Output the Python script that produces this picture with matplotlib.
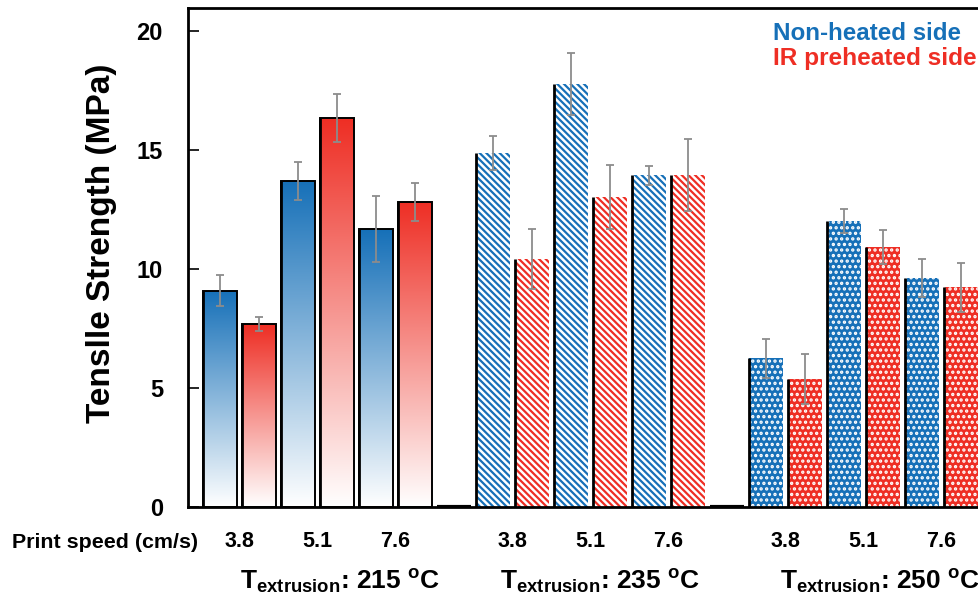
import numpy as np
import matplotlib.pyplot as plt
from matplotlib.colors import LinearSegmentedColormap

plt.rcParams.update(
    {
        "font.family": "Liberation Sans",
        "font.weight": "bold",
        "mathtext.fontset": "custom",
        "mathtext.rm": "Liberation Sans:bold",
        "mathtext.it": "Liberation Sans:bold",
        "mathtext.bf": "Liberation Sans:bold",
        "hatch.linewidth": 1.6,
    }
)

# data (MPa)
temps = ["215", "235", "250"]
speeds = ["3.8", "5.1", "7.6"]
non_heated = [[9.08, 13.70, 11.68], [14.87, 17.77, 13.95], [6.26, 12.02, 9.62]]
non_heated_err = [[0.65, 0.80, 1.40], [0.70, 1.30, 0.40], [0.82, 0.50, 0.80]]
preheated = [[7.69, 16.34, 12.82], [10.42, 13.03, 13.95], [5.38, 10.92, 9.24]]
preheated_err = [[0.30, 1.00, 0.80], [1.25, 1.35, 1.50], [1.05, 0.70, 1.03]]

BLUE = "#1670b8"
RED = "#ee2e24"
ERR = "#8c8c8c"
W = 0.87
SLOTS = 7  # 3 pairs + one empty slot per temperature
LABEL_SHIFT = [0.51, 0.18, 0.36]  # left edge of each temperature label, in slots


def gradient_fill(ax, rect, color):
    x0, w, h = rect.get_x(), rect.get_width(), rect.get_height()
    cmap = LinearSegmentedColormap.from_list("g", ["white", color])
    grad = np.linspace(0.0, 1.0, 256).reshape(-1, 1)
    im = ax.imshow(grad, extent=[x0, x0 + w, 0, h], origin="lower", cmap=cmap,
                   aspect="auto", zorder=1, interpolation="bilinear")
    im.set_clip_path(rect)


def draw_group(ax, g, style):
    base = g * SLOTS + np.arange(len(speeds)) * 2
    for side, vals, errs, color in [(0, non_heated, non_heated_err, BLUE),
                                     (1, preheated, preheated_err, RED)]:
        x = base + side
        v = np.array(vals[g])
        if style == "gradient":
            bars = ax.bar(x, v, W, facecolor="none", edgecolor="black", lw=1.4, zorder=2)
            for r in bars:
                gradient_fill(ax, r, color)
        elif style == "stripes":
            bars = ax.bar(x, v, W, color="white", edgecolor=color, hatch="\\" * 5, lw=0, zorder=2)
        else:
            bars = ax.bar(x, v, W, color=color, edgecolor="white", hatch="...", lw=0, zorder=2)
        for r in bars:
            x0 = r.get_x()
            ax.plot([x0, x0], [0, r.get_height()], color="black", lw=2, zorder=3,
                    solid_capstyle="butt")
        ax.errorbar(x, v, yerr=errs[g], fmt="none", ecolor=ERR, elinewidth=1.3,
                    capsize=3, capthick=1.3, zorder=5)
    gap = g * SLOTS + 6
    ax.plot([gap - W / 2, gap + W / 2], [0, 0], color="black", lw=3, zorder=3,
            solid_capstyle="butt")


fig = plt.figure(figsize=(9.79, 6.11), dpi=100)
ax = fig.add_axes([188 / 979, 1 - 507 / 611, 808 / 979, 499 / 611])

for g, style in enumerate(["gradient", "stripes", "dots"]):
    draw_group(ax, g, style)

ax.set_xlim(-0.82, 19.9)
ax.set_ylim(0, 20.97)

for s in ax.spines.values():
    s.set_linewidth(2)

ax.set_yticks([0, 5, 10, 15, 20])
ax.tick_params(axis="y", direction="in", length=8, width=1.2, pad=18, labelsize=17)

pair_pos = [g * SLOTS + i * 2 + 0.5 for g in range(len(temps)) for i in range(len(speeds))]
ax.set_xticks(pair_pos, speeds * len(temps))
ax.tick_params(axis="x", length=0, pad=17, labelsize=15.5)

for g, t in enumerate(temps):
    ax.text(g * SLOTS + LABEL_SHIFT[g], -0.166,
            r"$\mathrm{T_{extrusion}}$: " + t + r" $^\mathrm{o}$C",
            transform=ax.get_xaxis_transform(), ha="left", va="baseline", fontsize=19)

fig.text(12 / 979, 1 - 543 / 611, "Print speed (cm/s)", ha="left", va="center", fontsize=15.4)
fig.text(102 / 979, 1 - 243 / 611, "Tenslle Strength (MPa)", rotation=90,
         ha="center", va="center", fontsize=24)

fig.text(773 / 979, 1 - 40 / 611, "Non-heated side", color=BLUE, fontsize=17.4, va="baseline")
fig.text(773 / 979, 1 - 65 / 611, "IR preheated side", color=RED, fontsize=17.6, va="baseline")

fig.savefig("out.png", dpi=100)
